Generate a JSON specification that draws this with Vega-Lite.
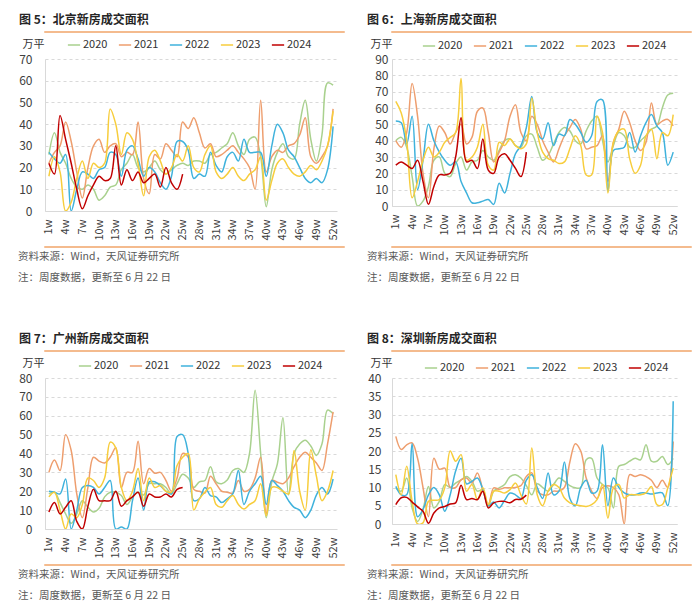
{
"$schema": "https://vega.github.io/schema/vega-lite/v6.json",
"background": "white",
"padding": {"left": 17, "top": 13, "right": 5, "bottom": 0},
"config": {
 "view": {"stroke": null},
 "font": "Noto Sans CJK SC",
 "axis": {"labelColor": "#404040", "labelFontSize": 12, "domainColor": "#D9D9D9", "ticks": false, "gridColor": "#D9D9D9", "gridDash": [3, 3], "titleFontWeight": "normal", "titleFontSize": 11, "titleColor": "#333333"},
 "legend": {"orient": "none", "direction": "horizontal", "symbolType": "stroke", "symbolSize": 150, "symbolStrokeWidth": 1.6, "labelFontSize": 11, "labelColor": "#333333", "columnPadding": 7, "labelOffset": 2}
},
"datasets": {
"bj": [
{"yr":"2020","w":1,"v":26},{"yr":"2020","w":2,"v":36},{"yr":"2020","w":3,"v":27},{"yr":"2020","w":4,"v":22},{"yr":"2020","w":5,"v":15},{"yr":"2020","w":6,"v":11},{"yr":"2020","w":7,"v":10},{"yr":"2020","w":8,"v":12},{"yr":"2020","w":9,"v":10},{"yr":"2020","w":10,"v":5},{"yr":"2020","w":11,"v":7},{"yr":"2020","w":12,"v":11},{"yr":"2020","w":13,"v":12},{"yr":"2020","w":14,"v":19},{"yr":"2020","w":15,"v":22},{"yr":"2020","w":16,"v":26},{"yr":"2020","w":17,"v":20},{"yr":"2020","w":18,"v":18},{"yr":"2020","w":19,"v":20},{"yr":"2020","w":20,"v":23},{"yr":"2020","w":21,"v":19},{"yr":"2020","w":22,"v":17},{"yr":"2020","w":23,"v":19},{"yr":"2020","w":24,"v":21},{"yr":"2020","w":25,"v":22},{"yr":"2020","w":26,"v":21},{"yr":"2020","w":27,"v":23},{"yr":"2020","w":28,"v":23},{"yr":"2020","w":29,"v":22},{"yr":"2020","w":30,"v":26},{"yr":"2020","w":31,"v":27},{"yr":"2020","w":32,"v":29},{"yr":"2020","w":33,"v":31},{"yr":"2020","w":34,"v":36},{"yr":"2020","w":35,"v":30},{"yr":"2020","w":36,"v":26},{"yr":"2020","w":37,"v":33},{"yr":"2020","w":38,"v":34},{"yr":"2020","w":39,"v":25},{"yr":"2020","w":40,"v":2},{"yr":"2020","w":41,"v":19},{"yr":"2020","w":42,"v":27},{"yr":"2020","w":43,"v":31},{"yr":"2020","w":44,"v":25},{"yr":"2020","w":45,"v":24},{"yr":"2020","w":46,"v":40},{"yr":"2020","w":47,"v":51},{"yr":"2020","w":48,"v":33},{"yr":"2020","w":49,"v":23},{"yr":"2020","w":50,"v":35},{"yr":"2020","w":51,"v":59},{"yr":"2020","w":52,"v":58},
{"yr":"2021","w":1,"v":22},{"yr":"2021","w":2,"v":27},{"yr":"2021","w":3,"v":30},{"yr":"2021","w":4,"v":41},{"yr":"2021","w":5,"v":32},{"yr":"2021","w":6,"v":18},{"yr":"2021","w":7,"v":6},{"yr":"2021","w":8,"v":20},{"yr":"2021","w":9,"v":30},{"yr":"2021","w":10,"v":33},{"yr":"2021","w":11,"v":27},{"yr":"2021","w":12,"v":30},{"yr":"2021","w":13,"v":31},{"yr":"2021","w":14,"v":25},{"yr":"2021","w":15,"v":27},{"yr":"2021","w":16,"v":26},{"yr":"2021","w":17,"v":41},{"yr":"2021","w":18,"v":15},{"yr":"2021","w":19,"v":8},{"yr":"2021","w":20,"v":26},{"yr":"2021","w":21,"v":24},{"yr":"2021","w":22,"v":31},{"yr":"2021","w":23,"v":28},{"yr":"2021","w":24,"v":25},{"yr":"2021","w":25,"v":41},{"yr":"2021","w":26,"v":38},{"yr":"2021","w":27,"v":43},{"yr":"2021","w":28,"v":36},{"yr":"2021","w":29,"v":29},{"yr":"2021","w":30,"v":31},{"yr":"2021","w":31,"v":25},{"yr":"2021","w":32,"v":26},{"yr":"2021","w":33,"v":28},{"yr":"2021","w":34,"v":30},{"yr":"2021","w":35,"v":27},{"yr":"2021","w":36,"v":24},{"yr":"2021","w":37,"v":20},{"yr":"2021","w":38,"v":10},{"yr":"2021","w":39,"v":51},{"yr":"2021","w":40,"v":18},{"yr":"2021","w":41,"v":25},{"yr":"2021","w":42,"v":28},{"yr":"2021","w":43,"v":27},{"yr":"2021","w":44,"v":30},{"yr":"2021","w":45,"v":31},{"yr":"2021","w":46,"v":35},{"yr":"2021","w":47,"v":43},{"yr":"2021","w":48,"v":25},{"yr":"2021","w":49,"v":22},{"yr":"2021","w":50,"v":25},{"yr":"2021","w":51,"v":30},{"yr":"2021","w":52,"v":47},
{"yr":"2022","w":1,"v":27},{"yr":"2022","w":2,"v":24},{"yr":"2022","w":3,"v":22},{"yr":"2022","w":4,"v":26},{"yr":"2022","w":5,"v":0},{"yr":"2022","w":6,"v":10},{"yr":"2022","w":7,"v":18},{"yr":"2022","w":8,"v":17},{"yr":"2022","w":9,"v":15},{"yr":"2022","w":10,"v":19},{"yr":"2022","w":11,"v":20},{"yr":"2022","w":12,"v":27},{"yr":"2022","w":13,"v":26},{"yr":"2022","w":14,"v":16},{"yr":"2022","w":15,"v":28},{"yr":"2022","w":16,"v":30},{"yr":"2022","w":17,"v":24},{"yr":"2022","w":18,"v":16},{"yr":"2022","w":19,"v":20},{"yr":"2022","w":20,"v":18},{"yr":"2022","w":21,"v":13},{"yr":"2022","w":22,"v":10},{"yr":"2022","w":23,"v":16},{"yr":"2022","w":24,"v":32},{"yr":"2022","w":25,"v":32},{"yr":"2022","w":26,"v":28},{"yr":"2022","w":27,"v":15},{"yr":"2022","w":28,"v":17},{"yr":"2022","w":29,"v":16},{"yr":"2022","w":30,"v":27},{"yr":"2022","w":31,"v":21},{"yr":"2022","w":32,"v":18},{"yr":"2022","w":33,"v":25},{"yr":"2022","w":34,"v":27},{"yr":"2022","w":35,"v":23},{"yr":"2022","w":36,"v":33},{"yr":"2022","w":37,"v":27},{"yr":"2022","w":38,"v":27},{"yr":"2022","w":39,"v":27},{"yr":"2022","w":40,"v":16},{"yr":"2022","w":41,"v":30},{"yr":"2022","w":42,"v":40},{"yr":"2022","w":43,"v":36},{"yr":"2022","w":44,"v":28},{"yr":"2022","w":45,"v":25},{"yr":"2022","w":46,"v":20},{"yr":"2022","w":47,"v":15},{"yr":"2022","w":48,"v":13},{"yr":"2022","w":49,"v":15},{"yr":"2022","w":50,"v":13},{"yr":"2022","w":51,"v":19},{"yr":"2022","w":52,"v":39},
{"yr":"2023","w":1,"v":16},{"yr":"2023","w":2,"v":25},{"yr":"2023","w":3,"v":18},{"yr":"2023","w":4,"v":0},{"yr":"2023","w":5,"v":4},{"yr":"2023","w":6,"v":15},{"yr":"2023","w":7,"v":23},{"yr":"2023","w":8,"v":15},{"yr":"2023","w":9,"v":22},{"yr":"2023","w":10,"v":20},{"yr":"2023","w":11,"v":22},{"yr":"2023","w":12,"v":47},{"yr":"2023","w":13,"v":40},{"yr":"2023","w":14,"v":26},{"yr":"2023","w":15,"v":36},{"yr":"2023","w":16,"v":33},{"yr":"2023","w":17,"v":22},{"yr":"2023","w":18,"v":7},{"yr":"2023","w":19,"v":25},{"yr":"2023","w":20,"v":28},{"yr":"2023","w":21,"v":23},{"yr":"2023","w":22,"v":17},{"yr":"2023","w":23,"v":20},{"yr":"2023","w":24,"v":26},{"yr":"2023","w":25,"v":23},{"yr":"2023","w":26,"v":30},{"yr":"2023","w":27,"v":20},{"yr":"2023","w":28,"v":18},{"yr":"2023","w":29,"v":26},{"yr":"2023","w":30,"v":30},{"yr":"2023","w":31,"v":18},{"yr":"2023","w":32,"v":15},{"yr":"2023","w":33,"v":17},{"yr":"2023","w":34,"v":20},{"yr":"2023","w":35,"v":16},{"yr":"2023","w":36,"v":14},{"yr":"2023","w":37,"v":17},{"yr":"2023","w":38,"v":19},{"yr":"2023","w":39,"v":25},{"yr":"2023","w":40,"v":5},{"yr":"2023","w":41,"v":14},{"yr":"2023","w":42,"v":22},{"yr":"2023","w":43,"v":24},{"yr":"2023","w":44,"v":20},{"yr":"2023","w":45,"v":17},{"yr":"2023","w":46,"v":16},{"yr":"2023","w":47,"v":18},{"yr":"2023","w":48,"v":21},{"yr":"2023","w":49,"v":19},{"yr":"2023","w":50,"v":23},{"yr":"2023","w":51,"v":30},{"yr":"2023","w":52,"v":46},
{"yr":"2024","w":1,"v":22},{"yr":"2024","w":2,"v":17},{"yr":"2024","w":3,"v":44},{"yr":"2024","w":4,"v":33},{"yr":"2024","w":5,"v":22},{"yr":"2024","w":6,"v":10},{"yr":"2024","w":7,"v":1},{"yr":"2024","w":8,"v":7},{"yr":"2024","w":9,"v":12},{"yr":"2024","w":10,"v":16},{"yr":"2024","w":11,"v":14},{"yr":"2024","w":12,"v":15},{"yr":"2024","w":13,"v":30},{"yr":"2024","w":14,"v":12},{"yr":"2024","w":15,"v":19},{"yr":"2024","w":16,"v":14},{"yr":"2024","w":17,"v":18},{"yr":"2024","w":18,"v":13},{"yr":"2024","w":19,"v":15},{"yr":"2024","w":20,"v":17},{"yr":"2024","w":21,"v":11},{"yr":"2024","w":22,"v":20},{"yr":"2024","w":23,"v":13},{"yr":"2024","w":24,"v":10},{"yr":"2024","w":25,"v":17}
],
"sh": [
{"yr":"2020","w":1,"v":40},{"yr":"2020","w":2,"v":42},{"yr":"2020","w":3,"v":36},{"yr":"2020","w":4,"v":18},{"yr":"2020","w":5,"v":0},{"yr":"2020","w":6,"v":3},{"yr":"2020","w":7,"v":12},{"yr":"2020","w":8,"v":28},{"yr":"2020","w":9,"v":30},{"yr":"2020","w":10,"v":20},{"yr":"2020","w":11,"v":18},{"yr":"2020","w":12,"v":26},{"yr":"2020","w":13,"v":30},{"yr":"2020","w":14,"v":22},{"yr":"2020","w":15,"v":27},{"yr":"2020","w":16,"v":28},{"yr":"2020","w":17,"v":34},{"yr":"2020","w":18,"v":30},{"yr":"2020","w":19,"v":28},{"yr":"2020","w":20,"v":34},{"yr":"2020","w":21,"v":40},{"yr":"2020","w":22,"v":41},{"yr":"2020","w":23,"v":37},{"yr":"2020","w":24,"v":36},{"yr":"2020","w":25,"v":43},{"yr":"2020","w":26,"v":44},{"yr":"2020","w":27,"v":36},{"yr":"2020","w":28,"v":28},{"yr":"2020","w":29,"v":31},{"yr":"2020","w":30,"v":38},{"yr":"2020","w":31,"v":45},{"yr":"2020","w":32,"v":48},{"yr":"2020","w":33,"v":46},{"yr":"2020","w":34,"v":40},{"yr":"2020","w":35,"v":38},{"yr":"2020","w":36,"v":46},{"yr":"2020","w":37,"v":52},{"yr":"2020","w":38,"v":55},{"yr":"2020","w":39,"v":40},{"yr":"2020","w":40,"v":27},{"yr":"2020","w":41,"v":37},{"yr":"2020","w":42,"v":45},{"yr":"2020","w":43,"v":43},{"yr":"2020","w":44,"v":36},{"yr":"2020","w":45,"v":36},{"yr":"2020","w":46,"v":40},{"yr":"2020","w":47,"v":43},{"yr":"2020","w":48,"v":47},{"yr":"2020","w":49,"v":49},{"yr":"2020","w":50,"v":60},{"yr":"2020","w":51,"v":68},{"yr":"2020","w":52,"v":69},
{"yr":"2021","w":1,"v":40},{"yr":"2021","w":2,"v":36},{"yr":"2021","w":3,"v":45},{"yr":"2021","w":4,"v":75},{"yr":"2021","w":5,"v":55},{"yr":"2021","w":6,"v":20},{"yr":"2021","w":7,"v":5},{"yr":"2021","w":8,"v":35},{"yr":"2021","w":9,"v":49},{"yr":"2021","w":10,"v":45},{"yr":"2021","w":11,"v":38},{"yr":"2021","w":12,"v":45},{"yr":"2021","w":13,"v":50},{"yr":"2021","w":14,"v":38},{"yr":"2021","w":15,"v":42},{"yr":"2021","w":16,"v":58},{"yr":"2021","w":17,"v":60},{"yr":"2021","w":18,"v":45},{"yr":"2021","w":19,"v":27},{"yr":"2021","w":20,"v":33},{"yr":"2021","w":21,"v":40},{"yr":"2021","w":22,"v":55},{"yr":"2021","w":23,"v":62},{"yr":"2021","w":24,"v":45},{"yr":"2021","w":25,"v":40},{"yr":"2021","w":26,"v":55},{"yr":"2021","w":27,"v":50},{"yr":"2021","w":28,"v":40},{"yr":"2021","w":29,"v":33},{"yr":"2021","w":30,"v":27},{"yr":"2021","w":31,"v":35},{"yr":"2021","w":32,"v":43},{"yr":"2021","w":33,"v":48},{"yr":"2021","w":34,"v":53},{"yr":"2021","w":35,"v":47},{"yr":"2021","w":36,"v":35},{"yr":"2021","w":37,"v":36},{"yr":"2021","w":38,"v":37},{"yr":"2021","w":39,"v":43},{"yr":"2021","w":40,"v":15},{"yr":"2021","w":41,"v":39},{"yr":"2021","w":42,"v":47},{"yr":"2021","w":43,"v":58},{"yr":"2021","w":44,"v":51},{"yr":"2021","w":45,"v":40},{"yr":"2021","w":46,"v":34},{"yr":"2021","w":47,"v":39},{"yr":"2021","w":48,"v":63},{"yr":"2021","w":49,"v":50},{"yr":"2021","w":50,"v":52},{"yr":"2021","w":51,"v":53},{"yr":"2021","w":52,"v":49},
{"yr":"2022","w":1,"v":52},{"yr":"2022","w":2,"v":51},{"yr":"2022","w":3,"v":38},{"yr":"2022","w":4,"v":55},{"yr":"2022","w":5,"v":10},{"yr":"2022","w":6,"v":28},{"yr":"2022","w":7,"v":50},{"yr":"2022","w":8,"v":40},{"yr":"2022","w":9,"v":33},{"yr":"2022","w":10,"v":28},{"yr":"2022","w":11,"v":25},{"yr":"2022","w":12,"v":27},{"yr":"2022","w":13,"v":15},{"yr":"2022","w":14,"v":8},{"yr":"2022","w":15,"v":2},{"yr":"2022","w":16,"v":2},{"yr":"2022","w":17,"v":3},{"yr":"2022","w":18,"v":4},{"yr":"2022","w":19,"v":1},{"yr":"2022","w":20,"v":14},{"yr":"2022","w":21,"v":8},{"yr":"2022","w":22,"v":20},{"yr":"2022","w":23,"v":32},{"yr":"2022","w":24,"v":37},{"yr":"2022","w":25,"v":48},{"yr":"2022","w":26,"v":67},{"yr":"2022","w":27,"v":45},{"yr":"2022","w":28,"v":41},{"yr":"2022","w":29,"v":51},{"yr":"2022","w":30,"v":37},{"yr":"2022","w":31,"v":44},{"yr":"2022","w":32,"v":43},{"yr":"2022","w":33,"v":53},{"yr":"2022","w":34,"v":50},{"yr":"2022","w":35,"v":45},{"yr":"2022","w":36,"v":39},{"yr":"2022","w":37,"v":43},{"yr":"2022","w":38,"v":64},{"yr":"2022","w":39,"v":65},{"yr":"2022","w":40,"v":9},{"yr":"2022","w":41,"v":34},{"yr":"2022","w":42,"v":35},{"yr":"2022","w":43,"v":36},{"yr":"2022","w":44,"v":45},{"yr":"2022","w":45,"v":33},{"yr":"2022","w":46,"v":43},{"yr":"2022","w":47,"v":51},{"yr":"2022","w":48,"v":56},{"yr":"2022","w":49,"v":49},{"yr":"2022","w":50,"v":45},{"yr":"2022","w":51,"v":25},{"yr":"2022","w":52,"v":33},
{"yr":"2023","w":1,"v":64},{"yr":"2023","w":2,"v":57},{"yr":"2023","w":3,"v":40},{"yr":"2023","w":4,"v":5},{"yr":"2023","w":5,"v":15},{"yr":"2023","w":6,"v":28},{"yr":"2023","w":7,"v":36},{"yr":"2023","w":8,"v":30},{"yr":"2023","w":9,"v":33},{"yr":"2023","w":10,"v":39},{"yr":"2023","w":11,"v":42},{"yr":"2023","w":12,"v":45},{"yr":"2023","w":13,"v":78},{"yr":"2023","w":14,"v":28},{"yr":"2023","w":15,"v":30},{"yr":"2023","w":16,"v":36},{"yr":"2023","w":17,"v":50},{"yr":"2023","w":18,"v":25},{"yr":"2023","w":19,"v":22},{"yr":"2023","w":20,"v":39},{"yr":"2023","w":21,"v":37},{"yr":"2023","w":22,"v":41},{"yr":"2023","w":23,"v":37},{"yr":"2023","w":24,"v":35},{"yr":"2023","w":25,"v":38},{"yr":"2023","w":26,"v":66},{"yr":"2023","w":27,"v":45},{"yr":"2023","w":28,"v":33},{"yr":"2023","w":29,"v":29},{"yr":"2023","w":30,"v":28},{"yr":"2023","w":31,"v":26},{"yr":"2023","w":32,"v":27},{"yr":"2023","w":33,"v":35},{"yr":"2023","w":34,"v":43},{"yr":"2023","w":35,"v":37},{"yr":"2023","w":36,"v":19},{"yr":"2023","w":37,"v":19},{"yr":"2023","w":38,"v":55},{"yr":"2023","w":39,"v":45},{"yr":"2023","w":40,"v":8},{"yr":"2023","w":41,"v":39},{"yr":"2023","w":42,"v":46},{"yr":"2023","w":43,"v":47},{"yr":"2023","w":44,"v":29},{"yr":"2023","w":45,"v":20},{"yr":"2023","w":46,"v":25},{"yr":"2023","w":47,"v":43},{"yr":"2023","w":48,"v":47},{"yr":"2023","w":49,"v":29},{"yr":"2023","w":50,"v":45},{"yr":"2023","w":51,"v":43},{"yr":"2023","w":52,"v":56},
{"yr":"2024","w":1,"v":25},{"yr":"2024","w":2,"v":27},{"yr":"2024","w":3,"v":25},{"yr":"2024","w":4,"v":23},{"yr":"2024","w":5,"v":28},{"yr":"2024","w":6,"v":15},{"yr":"2024","w":7,"v":1},{"yr":"2024","w":8,"v":12},{"yr":"2024","w":9,"v":19},{"yr":"2024","w":10,"v":19},{"yr":"2024","w":11,"v":20},{"yr":"2024","w":12,"v":30},{"yr":"2024","w":13,"v":54},{"yr":"2024","w":14,"v":27},{"yr":"2024","w":15,"v":28},{"yr":"2024","w":16,"v":23},{"yr":"2024","w":17,"v":41},{"yr":"2024","w":18,"v":22},{"yr":"2024","w":19,"v":20},{"yr":"2024","w":20,"v":30},{"yr":"2024","w":21,"v":32},{"yr":"2024","w":22,"v":28},{"yr":"2024","w":23,"v":23},{"yr":"2024","w":24,"v":18},{"yr":"2024","w":25,"v":33}
],
"gz": [
{"yr":"2020","w":1,"v":18.6},{"yr":"2020","w":2,"v":19.5},{"yr":"2020","w":3,"v":14},{"yr":"2020","w":4,"v":8},{"yr":"2020","w":5,"v":3},{"yr":"2020","w":6,"v":8},{"yr":"2020","w":7,"v":15},{"yr":"2020","w":8,"v":11.5},{"yr":"2020","w":9,"v":9},{"yr":"2020","w":10,"v":11},{"yr":"2020","w":11,"v":17},{"yr":"2020","w":12,"v":19.5},{"yr":"2020","w":13,"v":19.5},{"yr":"2020","w":14,"v":17.7},{"yr":"2020","w":15,"v":13},{"yr":"2020","w":16,"v":17},{"yr":"2020","w":17,"v":19.5},{"yr":"2020","w":18,"v":18},{"yr":"2020","w":19,"v":24},{"yr":"2020","w":20,"v":24},{"yr":"2020","w":21,"v":24},{"yr":"2020","w":22,"v":22},{"yr":"2020","w":23,"v":18.6},{"yr":"2020","w":24,"v":24},{"yr":"2020","w":25,"v":29},{"yr":"2020","w":26,"v":27},{"yr":"2020","w":27,"v":22},{"yr":"2020","w":28,"v":25},{"yr":"2020","w":29,"v":25.7},{"yr":"2020","w":30,"v":33},{"yr":"2020","w":31,"v":25},{"yr":"2020","w":32,"v":24},{"yr":"2020","w":33,"v":26},{"yr":"2020","w":34,"v":31},{"yr":"2020","w":35,"v":32},{"yr":"2020","w":36,"v":30},{"yr":"2020","w":37,"v":40},{"yr":"2020","w":38,"v":73.5},{"yr":"2020","w":39,"v":40},{"yr":"2020","w":40,"v":6},{"yr":"2020","w":41,"v":25},{"yr":"2020","w":42,"v":34.5},{"yr":"2020","w":43,"v":59},{"yr":"2020","w":44,"v":18},{"yr":"2020","w":45,"v":40},{"yr":"2020","w":46,"v":45},{"yr":"2020","w":47,"v":47},{"yr":"2020","w":48,"v":44},{"yr":"2020","w":49,"v":39},{"yr":"2020","w":50,"v":45},{"yr":"2020","w":51,"v":63},{"yr":"2020","w":52,"v":61},
{"yr":"2021","w":1,"v":30},{"yr":"2021","w":2,"v":36.6},{"yr":"2021","w":3,"v":31},{"yr":"2021","w":4,"v":50},{"yr":"2021","w":5,"v":41.6},{"yr":"2021","w":6,"v":18.6},{"yr":"2021","w":7,"v":6},{"yr":"2021","w":8,"v":22},{"yr":"2021","w":9,"v":38},{"yr":"2021","w":10,"v":36},{"yr":"2021","w":11,"v":35},{"yr":"2021","w":12,"v":38},{"yr":"2021","w":13,"v":43},{"yr":"2021","w":14,"v":22},{"yr":"2021","w":15,"v":30},{"yr":"2021","w":16,"v":30},{"yr":"2021","w":17,"v":46.5},{"yr":"2021","w":18,"v":24},{"yr":"2021","w":19,"v":32},{"yr":"2021","w":20,"v":29.5},{"yr":"2021","w":21,"v":30},{"yr":"2021","w":22,"v":25.7},{"yr":"2021","w":23,"v":20},{"yr":"2021","w":24,"v":27},{"yr":"2021","w":25,"v":40},{"yr":"2021","w":26,"v":38},{"yr":"2021","w":27,"v":21},{"yr":"2021","w":28,"v":20},{"yr":"2021","w":29,"v":19},{"yr":"2021","w":30,"v":28},{"yr":"2021","w":31,"v":24},{"yr":"2021","w":32,"v":20},{"yr":"2021","w":33,"v":19.5},{"yr":"2021","w":34,"v":19},{"yr":"2021","w":35,"v":25.7},{"yr":"2021","w":36,"v":20},{"yr":"2021","w":37,"v":21},{"yr":"2021","w":38,"v":27},{"yr":"2021","w":39,"v":38},{"yr":"2021","w":40,"v":8},{"yr":"2021","w":41,"v":25.7},{"yr":"2021","w":42,"v":24.8},{"yr":"2021","w":43,"v":24},{"yr":"2021","w":44,"v":27},{"yr":"2021","w":45,"v":33},{"yr":"2021","w":46,"v":38},{"yr":"2021","w":47,"v":40.7},{"yr":"2021","w":48,"v":38},{"yr":"2021","w":49,"v":35},{"yr":"2021","w":50,"v":31},{"yr":"2021","w":51,"v":45},{"yr":"2021","w":52,"v":62},
{"yr":"2022","w":1,"v":20},{"yr":"2022","w":2,"v":19.5},{"yr":"2022","w":3,"v":18.6},{"yr":"2022","w":4,"v":26.5},{"yr":"2022","w":5,"v":0},{"yr":"2022","w":6,"v":10},{"yr":"2022","w":7,"v":22},{"yr":"2022","w":8,"v":23},{"yr":"2022","w":9,"v":22},{"yr":"2022","w":10,"v":18.6},{"yr":"2022","w":11,"v":22},{"yr":"2022","w":12,"v":25.7},{"yr":"2022","w":13,"v":0},{"yr":"2022","w":14,"v":1},{"yr":"2022","w":15,"v":0},{"yr":"2022","w":16,"v":15},{"yr":"2022","w":17,"v":27},{"yr":"2022","w":18,"v":10},{"yr":"2022","w":19,"v":25},{"yr":"2022","w":20,"v":25},{"yr":"2022","w":21,"v":23},{"yr":"2022","w":22,"v":20},{"yr":"2022","w":23,"v":18.6},{"yr":"2022","w":24,"v":49},{"yr":"2022","w":25,"v":50},{"yr":"2022","w":26,"v":40},{"yr":"2022","w":27,"v":15},{"yr":"2022","w":28,"v":16},{"yr":"2022","w":29,"v":22},{"yr":"2022","w":30,"v":17.7},{"yr":"2022","w":31,"v":17},{"yr":"2022","w":32,"v":14},{"yr":"2022","w":33,"v":16},{"yr":"2022","w":34,"v":18.6},{"yr":"2022","w":35,"v":31},{"yr":"2022","w":36,"v":13},{"yr":"2022","w":37,"v":20},{"yr":"2022","w":38,"v":24},{"yr":"2022","w":39,"v":28},{"yr":"2022","w":40,"v":13},{"yr":"2022","w":41,"v":25.7},{"yr":"2022","w":42,"v":23},{"yr":"2022","w":43,"v":20},{"yr":"2022","w":44,"v":15},{"yr":"2022","w":45,"v":11.5},{"yr":"2022","w":46,"v":10},{"yr":"2022","w":47,"v":6},{"yr":"2022","w":48,"v":10},{"yr":"2022","w":49,"v":18},{"yr":"2022","w":50,"v":22},{"yr":"2022","w":51,"v":18.6},{"yr":"2022","w":52,"v":26.5},
{"yr":"2023","w":1,"v":17},{"yr":"2023","w":2,"v":19.5},{"yr":"2023","w":3,"v":10},{"yr":"2023","w":4,"v":0},{"yr":"2023","w":5,"v":8},{"yr":"2023","w":6,"v":6},{"yr":"2023","w":7,"v":13},{"yr":"2023","w":8,"v":27},{"yr":"2023","w":9,"v":25.7},{"yr":"2023","w":10,"v":22},{"yr":"2023","w":11,"v":27},{"yr":"2023","w":12,"v":46},{"yr":"2023","w":13,"v":43},{"yr":"2023","w":14,"v":22},{"yr":"2023","w":15,"v":15},{"yr":"2023","w":16,"v":20},{"yr":"2023","w":17,"v":32},{"yr":"2023","w":18,"v":15},{"yr":"2023","w":19,"v":27},{"yr":"2023","w":20,"v":22},{"yr":"2023","w":21,"v":23},{"yr":"2023","w":22,"v":20},{"yr":"2023","w":23,"v":19.5},{"yr":"2023","w":24,"v":33.6},{"yr":"2023","w":25,"v":38},{"yr":"2023","w":26,"v":40},{"yr":"2023","w":27,"v":10},{"yr":"2023","w":28,"v":16},{"yr":"2023","w":29,"v":19.5},{"yr":"2023","w":30,"v":22},{"yr":"2023","w":31,"v":13},{"yr":"2023","w":32,"v":11.5},{"yr":"2023","w":33,"v":15},{"yr":"2023","w":34,"v":17.7},{"yr":"2023","w":35,"v":13},{"yr":"2023","w":36,"v":10.6},{"yr":"2023","w":37,"v":13},{"yr":"2023","w":38,"v":15},{"yr":"2023","w":39,"v":24},{"yr":"2023","w":40,"v":7},{"yr":"2023","w":41,"v":22},{"yr":"2023","w":42,"v":22},{"yr":"2023","w":43,"v":20},{"yr":"2023","w":44,"v":18.6},{"yr":"2023","w":45,"v":41.6},{"yr":"2023","w":46,"v":20},{"yr":"2023","w":47,"v":10},{"yr":"2023","w":48,"v":42},{"yr":"2023","w":49,"v":28},{"yr":"2023","w":50,"v":15},{"yr":"2023","w":51,"v":20},{"yr":"2023","w":52,"v":31},
{"yr":"2024","w":1,"v":9},{"yr":"2024","w":2,"v":14},{"yr":"2024","w":3,"v":8},{"yr":"2024","w":4,"v":11.5},{"yr":"2024","w":5,"v":15},{"yr":"2024","w":6,"v":4},{"yr":"2024","w":7,"v":0},{"yr":"2024","w":8,"v":12},{"yr":"2024","w":9,"v":21},{"yr":"2024","w":10,"v":15},{"yr":"2024","w":11,"v":15},{"yr":"2024","w":12,"v":15},{"yr":"2024","w":13,"v":20},{"yr":"2024","w":14,"v":12},{"yr":"2024","w":15,"v":15},{"yr":"2024","w":16,"v":17},{"yr":"2024","w":17,"v":19.5},{"yr":"2024","w":18,"v":12},{"yr":"2024","w":19,"v":18.5},{"yr":"2024","w":20,"v":17},{"yr":"2024","w":21,"v":17},{"yr":"2024","w":22,"v":18.5},{"yr":"2024","w":23,"v":17},{"yr":"2024","w":24,"v":21},{"yr":"2024","w":25,"v":22}
],
"sz": [
{"yr":"2020","w":1,"v":9.9},{"yr":"2020","w":2,"v":9},{"yr":"2020","w":3,"v":12.6},{"yr":"2020","w":4,"v":4.4},{"yr":"2020","w":5,"v":0.7},{"yr":"2020","w":6,"v":4},{"yr":"2020","w":7,"v":10.3},{"yr":"2020","w":8,"v":4.4},{"yr":"2020","w":9,"v":6.2},{"yr":"2020","w":10,"v":10.8},{"yr":"2020","w":11,"v":10},{"yr":"2020","w":12,"v":11.2},{"yr":"2020","w":13,"v":12.1},{"yr":"2020","w":14,"v":13},{"yr":"2020","w":15,"v":11.7},{"yr":"2020","w":16,"v":9},{"yr":"2020","w":17,"v":9.4},{"yr":"2020","w":18,"v":4.8},{"yr":"2020","w":19,"v":9},{"yr":"2020","w":20,"v":9.9},{"yr":"2020","w":21,"v":10.8},{"yr":"2020","w":22,"v":13},{"yr":"2020","w":23,"v":13.5},{"yr":"2020","w":24,"v":12.6},{"yr":"2020","w":25,"v":10.5},{"yr":"2020","w":26,"v":8},{"yr":"2020","w":27,"v":11},{"yr":"2020","w":28,"v":10},{"yr":"2020","w":29,"v":9},{"yr":"2020","w":30,"v":10.8},{"yr":"2020","w":31,"v":12.6},{"yr":"2020","w":32,"v":11.7},{"yr":"2020","w":33,"v":10.5},{"yr":"2020","w":34,"v":9.9},{"yr":"2020","w":35,"v":10},{"yr":"2020","w":36,"v":17.6},{"yr":"2020","w":37,"v":18},{"yr":"2020","w":38,"v":12.6},{"yr":"2020","w":39,"v":10.8},{"yr":"2020","w":40,"v":9.9},{"yr":"2020","w":41,"v":4.4},{"yr":"2020","w":42,"v":15.8},{"yr":"2020","w":43,"v":16.3},{"yr":"2020","w":44,"v":17.2},{"yr":"2020","w":45,"v":18},{"yr":"2020","w":46,"v":17.6},{"yr":"2020","w":47,"v":21.7},{"yr":"2020","w":48,"v":17.2},{"yr":"2020","w":49,"v":17.2},{"yr":"2020","w":50,"v":18.5},{"yr":"2020","w":51,"v":16.3},{"yr":"2020","w":52,"v":18},
{"yr":"2021","w":1,"v":24},{"yr":"2021","w":2,"v":20.4},{"yr":"2021","w":3,"v":21.7},{"yr":"2021","w":4,"v":22.2},{"yr":"2021","w":5,"v":18},{"yr":"2021","w":6,"v":10},{"yr":"2021","w":7,"v":2},{"yr":"2021","w":8,"v":18},{"yr":"2021","w":9,"v":15},{"yr":"2021","w":10,"v":15.3},{"yr":"2021","w":11,"v":10},{"yr":"2021","w":12,"v":10},{"yr":"2021","w":13,"v":12.1},{"yr":"2021","w":14,"v":12.6},{"yr":"2021","w":15,"v":11.2},{"yr":"2021","w":16,"v":14},{"yr":"2021","w":17,"v":9.4},{"yr":"2021","w":18,"v":5.3},{"yr":"2021","w":19,"v":9.9},{"yr":"2021","w":20,"v":9.5},{"yr":"2021","w":21,"v":9.9},{"yr":"2021","w":22,"v":9.9},{"yr":"2021","w":23,"v":10},{"yr":"2021","w":24,"v":10.5},{"yr":"2021","w":25,"v":13},{"yr":"2021","w":26,"v":14},{"yr":"2021","w":27,"v":9},{"yr":"2021","w":28,"v":8},{"yr":"2021","w":29,"v":8},{"yr":"2021","w":30,"v":9},{"yr":"2021","w":31,"v":9},{"yr":"2021","w":32,"v":10},{"yr":"2021","w":33,"v":17},{"yr":"2021","w":34,"v":22},{"yr":"2021","w":35,"v":20},{"yr":"2021","w":36,"v":12.6},{"yr":"2021","w":37,"v":9},{"yr":"2021","w":38,"v":7},{"yr":"2021","w":39,"v":10},{"yr":"2021","w":40,"v":10.5},{"yr":"2021","w":41,"v":10},{"yr":"2021","w":42,"v":8},{"yr":"2021","w":43,"v":0},{"yr":"2021","w":44,"v":13.5},{"yr":"2021","w":45,"v":13},{"yr":"2021","w":46,"v":13.5},{"yr":"2021","w":47,"v":13},{"yr":"2021","w":48,"v":12},{"yr":"2021","w":49,"v":10},{"yr":"2021","w":50,"v":12},{"yr":"2021","w":51,"v":10},{"yr":"2021","w":52,"v":22.6},
{"yr":"2022","w":1,"v":10.3},{"yr":"2022","w":2,"v":8},{"yr":"2022","w":3,"v":8},{"yr":"2022","w":4,"v":22},{"yr":"2022","w":5,"v":2},{"yr":"2022","w":6,"v":4},{"yr":"2022","w":7,"v":8},{"yr":"2022","w":8,"v":10},{"yr":"2022","w":9,"v":8},{"yr":"2022","w":10,"v":3.5},{"yr":"2022","w":11,"v":8},{"yr":"2022","w":12,"v":14.5},{"yr":"2022","w":13,"v":18},{"yr":"2022","w":14,"v":11},{"yr":"2022","w":15,"v":11.7},{"yr":"2022","w":16,"v":12.6},{"yr":"2022","w":17,"v":9.5},{"yr":"2022","w":18,"v":5},{"yr":"2022","w":19,"v":6},{"yr":"2022","w":20,"v":4.4},{"yr":"2022","w":21,"v":6.5},{"yr":"2022","w":22,"v":8.5},{"yr":"2022","w":23,"v":8},{"yr":"2022","w":24,"v":7},{"yr":"2022","w":25,"v":12},{"yr":"2022","w":26,"v":13.5},{"yr":"2022","w":27,"v":10},{"yr":"2022","w":28,"v":7},{"yr":"2022","w":29,"v":14},{"yr":"2022","w":30,"v":8},{"yr":"2022","w":31,"v":9},{"yr":"2022","w":32,"v":17},{"yr":"2022","w":33,"v":7},{"yr":"2022","w":34,"v":5},{"yr":"2022","w":35,"v":10},{"yr":"2022","w":36,"v":12},{"yr":"2022","w":37,"v":8.5},{"yr":"2022","w":38,"v":9},{"yr":"2022","w":39,"v":21.7},{"yr":"2022","w":40,"v":5},{"yr":"2022","w":41,"v":12.6},{"yr":"2022","w":42,"v":10},{"yr":"2022","w":43,"v":8.5},{"yr":"2022","w":44,"v":8},{"yr":"2022","w":45,"v":8},{"yr":"2022","w":46,"v":8.5},{"yr":"2022","w":47,"v":8.5},{"yr":"2022","w":48,"v":8.2},{"yr":"2022","w":49,"v":8.5},{"yr":"2022","w":50,"v":8.5},{"yr":"2022","w":51,"v":5},{"yr":"2022","w":52,"v":33.6},
{"yr":"2023","w":1,"v":13.5},{"yr":"2023","w":2,"v":8},{"yr":"2023","w":3,"v":15.8},{"yr":"2023","w":4,"v":6.2},{"yr":"2023","w":5,"v":0},{"yr":"2023","w":6,"v":0.3},{"yr":"2023","w":7,"v":6.2},{"yr":"2023","w":8,"v":6.5},{"yr":"2023","w":9,"v":6.7},{"yr":"2023","w":10,"v":9.9},{"yr":"2023","w":11,"v":20},{"yr":"2023","w":12,"v":17.2},{"yr":"2023","w":13,"v":19},{"yr":"2023","w":14,"v":9},{"yr":"2023","w":15,"v":10.8},{"yr":"2023","w":16,"v":6.7},{"yr":"2023","w":17,"v":9.9},{"yr":"2023","w":18,"v":5.3},{"yr":"2023","w":19,"v":9},{"yr":"2023","w":20,"v":9},{"yr":"2023","w":21,"v":8.5},{"yr":"2023","w":22,"v":9.4},{"yr":"2023","w":23,"v":11.2},{"yr":"2023","w":24,"v":8},{"yr":"2023","w":25,"v":5.5},{"yr":"2023","w":26,"v":20.8},{"yr":"2023","w":27,"v":8},{"yr":"2023","w":28,"v":5},{"yr":"2023","w":29,"v":9},{"yr":"2023","w":30,"v":10.8},{"yr":"2023","w":31,"v":10},{"yr":"2023","w":32,"v":7.1},{"yr":"2023","w":33,"v":5.8},{"yr":"2023","w":34,"v":5.3},{"yr":"2023","w":35,"v":5},{"yr":"2023","w":36,"v":4.8},{"yr":"2023","w":37,"v":5.3},{"yr":"2023","w":38,"v":6.7},{"yr":"2023","w":39,"v":10.8},{"yr":"2023","w":40,"v":1.6},{"yr":"2023","w":41,"v":9.9},{"yr":"2023","w":42,"v":10.8},{"yr":"2023","w":43,"v":7.1},{"yr":"2023","w":44,"v":8},{"yr":"2023","w":45,"v":8},{"yr":"2023","w":46,"v":8},{"yr":"2023","w":47,"v":8.5},{"yr":"2023","w":48,"v":10.3},{"yr":"2023","w":49,"v":5.3},{"yr":"2023","w":50,"v":5.3},{"yr":"2023","w":51,"v":9.9},{"yr":"2023","w":52,"v":15.3},
{"yr":"2024","w":1,"v":5.3},{"yr":"2024","w":2,"v":7.2},{"yr":"2024","w":3,"v":7.3},{"yr":"2024","w":4,"v":6},{"yr":"2024","w":5,"v":4.7},{"yr":"2024","w":6,"v":3.5},{"yr":"2024","w":7,"v":0.2},{"yr":"2024","w":8,"v":3},{"yr":"2024","w":9,"v":4.4},{"yr":"2024","w":10,"v":4.8},{"yr":"2024","w":11,"v":5.5},{"yr":"2024","w":12,"v":5.8},{"yr":"2024","w":13,"v":10.6},{"yr":"2024","w":14,"v":6.7},{"yr":"2024","w":15,"v":7},{"yr":"2024","w":16,"v":6.7},{"yr":"2024","w":17,"v":9},{"yr":"2024","w":18,"v":4.4},{"yr":"2024","w":19,"v":5.8},{"yr":"2024","w":20,"v":6.2},{"yr":"2024","w":21,"v":6.2},{"yr":"2024","w":22,"v":5.8},{"yr":"2024","w":23,"v":6.7},{"yr":"2024","w":24,"v":6.8},{"yr":"2024","w":25,"v":7.9}
]
},
"vconcat": [
{
 "concat": [
  {"width": 299, "height": 0.1, "view": {"stroke": "#F0A468", "strokeWidth": 1.5}, "title": {"text": "图 5：北京新房成交面积", "anchor": "start", "dx": -26, "offset": 5, "fontSize": 12, "fontWeight": "bold", "color": "#262626"}, "data": {"values": []}, "mark": {"type": "text"}, "encoding": {"text": {"field": "t"}}},
  {"width": 299, "height": 0.1, "view": {"stroke": "#F0A468", "strokeWidth": 1.5}, "title": {"text": "图 6：上海新房成交面积", "anchor": "start", "dx": -25, "offset": 5, "fontSize": 12, "fontWeight": "bold", "color": "#262626"}, "data": {"values": []}, "mark": {"type": "text"}, "encoding": {"text": {"field": "t"}}},
  {"width": 292, "height": 152, "data": {"name": "bj"}, "mark": {"type": "line", "interpolate": "catmull-rom", "clip": true},
   "encoding": {
    "x": {"field": "w", "type": "quantitative", "scale": {"domain": [0.3, 52.7], "nice": false, "zero": false}, "axis": {"values": [1,4,7,10,13,16,19,22,25,28,31,34,37,40,43,46,49,52], "labelExpr": "datum.value + 'w'", "title": null, "grid": false, "labelAngle": 270, "labelFontSize": 11, "labelPadding": 8}},
    "y": {"field": "v", "type": "quantitative", "scale": {"domain": [0, 70], "nice": false}, "axis": {"values": [0,10,20,30,40,50,60,70], "title": "万平", "titleAngle": 0, "titleAlign": "right", "titleBaseline": "middle", "titleX": -1, "titleY": -15, "labelPadding": 13}},
    "color": {"field": "yr", "type": "nominal", "scale": {"domain": ["2020","2021","2022","2023","2024"], "range": ["#A9D18E","#EE9E6E","#3FB2DC","#F7CD3C","#C00000"]}, "legend": {"title": null, "legendX": 22, "legendY": -21, "encode": {"symbols": {"update": {"strokeWidth": {"signal": "datum.value === '2024' ? 2.6 : 1.6"}}}}}},
    "strokeWidth": {"field": "yr", "type": "nominal", "scale": {"domain": ["2020","2021","2022","2023","2024"], "range": [1.5,1.5,1.5,1.5,2.4]}, "legend": null}
   }},
  {"width": 285, "height": 147, "data": {"name": "sh"}, "mark": {"type": "line", "interpolate": "catmull-rom", "clip": true},
   "encoding": {
    "x": {"field": "w", "type": "quantitative", "scale": {"domain": [0.3, 52.7], "nice": false, "zero": false}, "axis": {"values": [1,4,7,10,13,16,19,22,25,28,31,34,37,40,43,46,49,52], "labelExpr": "datum.value + 'w'", "title": null, "grid": false, "labelAngle": 270, "labelFontSize": 11, "labelPadding": 8}},
    "y": {"field": "v", "type": "quantitative", "scale": {"domain": [0, 90], "nice": false}, "axis": {"values": [0,10,20,30,40,50,60,70,80,90], "title": "万平", "titleAngle": 0, "titleAlign": "right", "titleBaseline": "middle", "titleX": 0, "titleY": -15, "labelPadding": 4}},
    "color": {"field": "yr", "type": "nominal", "scale": {"domain": ["2020","2021","2022","2023","2024"], "range": ["#A9D18E","#EE9E6E","#3FB2DC","#F7CD3C","#C00000"]}, "legend": {"title": null, "legendX": 30, "legendY": -20, "encode": {"symbols": {"update": {"strokeWidth": {"signal": "datum.value === '2024' ? 2.6 : 1.6"}}}}}},
    "strokeWidth": {"field": "yr", "type": "nominal", "scale": {"domain": ["2020","2021","2022","2023","2024"], "range": [1.5,1.5,1.5,1.5,2.4]}, "legend": null}
   }},
  {"width": 299, "height": 0.1, "view": {"stroke": "#F0A468", "strokeWidth": 1.5}, "title": {"text": ["资料来源：Wind，天风证券研究所", "注：周度数据，更新至 6 月 22 日"], "orient": "bottom", "anchor": "start", "dx": -27, "offset": 5, "fontSize": 10.5, "fontWeight": "normal", "color": "#595959", "lineHeight": 21}, "data": {"values": []}, "mark": {"type": "text"}, "encoding": {"text": {"field": "t"}}},
  {"width": 299, "height": 0.1, "view": {"stroke": "#F0A468", "strokeWidth": 1.5}, "title": {"text": ["资料来源：Wind，天风证券研究所", "注：周度数据，更新至 6 月 22 日"], "orient": "bottom", "anchor": "start", "dx": -25, "offset": 5, "fontSize": 10.5, "fontWeight": "normal", "color": "#595959", "lineHeight": 21}, "data": {"values": []}, "mark": {"type": "text"}, "encoding": {"text": {"field": "t"}}}
 ],
 "columns": 2,
 "align": "each",
 "spacing": {"row": 5, "column": 21},
 "resolve": {"scale": {"color": "independent", "strokeWidth": "independent", "x": "independent", "y": "independent"}, "legend": {"color": "independent", "strokeWidth": "independent"}}
},
{
 "concat": [
  {"width": 299, "height": 0.1, "view": {"stroke": "#F0A468", "strokeWidth": 1.5}, "title": {"text": "图 7：广州新房成交面积", "anchor": "start", "dx": -26, "offset": 5, "fontSize": 12, "fontWeight": "bold", "color": "#262626"}, "data": {"values": []}, "mark": {"type": "text"}, "encoding": {"text": {"field": "t"}}},
  {"width": 299, "height": 0.1, "view": {"stroke": "#F0A468", "strokeWidth": 1.5}, "title": {"text": "图 8：深圳新房成交面积", "anchor": "start", "dx": -25, "offset": 5, "fontSize": 12, "fontWeight": "bold", "color": "#262626"}, "data": {"values": []}, "mark": {"type": "text"}, "encoding": {"text": {"field": "t"}}},
  {"width": 292, "height": 151, "data": {"name": "gz"}, "mark": {"type": "line", "interpolate": "catmull-rom", "clip": true},
   "encoding": {
    "x": {"field": "w", "type": "quantitative", "scale": {"domain": [0.3, 52.7], "nice": false, "zero": false}, "axis": {"values": [1,4,7,10,13,16,19,22,25,28,31,34,37,40,43,46,49,52], "labelExpr": "datum.value + 'w'", "title": null, "grid": false, "labelAngle": 270, "labelFontSize": 11, "labelPadding": 8}},
    "y": {"field": "v", "type": "quantitative", "scale": {"domain": [0, 80], "nice": false}, "axis": {"values": [0,10,20,30,40,50,60,70,80], "title": "万平", "titleAngle": 0, "titleAlign": "right", "titleBaseline": "middle", "titleX": -1, "titleY": -15, "labelPadding": 13}},
    "color": {"field": "yr", "type": "nominal", "scale": {"domain": ["2020","2021","2022","2023","2024"], "range": ["#A9D18E","#EE9E6E","#3FB2DC","#F7CD3C","#C00000"]}, "legend": {"title": null, "legendX": 33, "legendY": -19, "encode": {"symbols": {"update": {"strokeWidth": {"signal": "datum.value === '2024' ? 2.6 : 1.6"}}}}}},
    "strokeWidth": {"field": "yr", "type": "nominal", "scale": {"domain": ["2020","2021","2022","2023","2024"], "range": [1.5,1.5,1.5,1.5,2.4]}, "legend": null}
   }},
  {"width": 285, "height": 146, "data": {"name": "sz"}, "mark": {"type": "line", "interpolate": "catmull-rom", "clip": true},
   "encoding": {
    "x": {"field": "w", "type": "quantitative", "scale": {"domain": [0.3, 52.7], "nice": false, "zero": false}, "axis": {"values": [1,4,7,10,13,16,19,22,25,28,31,34,37,40,43,46,49,52], "labelExpr": "datum.value + 'w'", "title": null, "grid": false, "labelAngle": 270, "labelFontSize": 11, "labelPadding": 8}},
    "y": {"field": "v", "type": "quantitative", "scale": {"domain": [0, 40], "nice": false}, "axis": {"values": [0,5,10,15,20,25,30,35,40], "title": "万平", "titleAngle": 0, "titleAlign": "right", "titleBaseline": "middle", "titleX": 0, "titleY": -15, "labelPadding": 11}},
    "color": {"field": "yr", "type": "nominal", "scale": {"domain": ["2020","2021","2022","2023","2024"], "range": ["#A9D18E","#EE9E6E","#3FB2DC","#F7CD3C","#C00000"]}, "legend": {"title": null, "legendX": 32, "legendY": -17, "encode": {"symbols": {"update": {"strokeWidth": {"signal": "datum.value === '2024' ? 2.6 : 1.6"}}}}}},
    "strokeWidth": {"field": "yr", "type": "nominal", "scale": {"domain": ["2020","2021","2022","2023","2024"], "range": [1.5,1.5,1.5,1.5,2.4]}, "legend": null}
   }},
  {"width": 299, "height": 0.1, "view": {"stroke": "#F0A468", "strokeWidth": 1.5}, "title": {"text": ["资料来源：Wind，天风证券研究所", "注：周度数据，更新至 6 月 22 日"], "orient": "bottom", "anchor": "start", "dx": -27, "offset": 5, "fontSize": 10.5, "fontWeight": "normal", "color": "#595959", "lineHeight": 21}, "data": {"values": []}, "mark": {"type": "text"}, "encoding": {"text": {"field": "t"}}},
  {"width": 299, "height": 0.1, "view": {"stroke": "#F0A468", "strokeWidth": 1.5}, "title": {"text": ["资料来源：Wind，天风证券研究所", "注：周度数据，更新至 6 月 22 日"], "orient": "bottom", "anchor": "start", "dx": -25, "offset": 5, "fontSize": 10.5, "fontWeight": "normal", "color": "#595959", "lineHeight": 21}, "data": {"values": []}, "mark": {"type": "text"}, "encoding": {"text": {"field": "t"}}}
 ],
 "columns": 2,
 "align": "each",
 "spacing": {"row": 5, "column": 21},
 "resolve": {"scale": {"color": "independent", "strokeWidth": "independent", "x": "independent", "y": "independent"}, "legend": {"color": "independent", "strokeWidth": "independent"}}
}
],
"spacing": 47,
"resolve": {"scale": {"color": "independent", "strokeWidth": "independent", "x": "independent", "y": "independent"}, "legend": {"color": "independent", "strokeWidth": "independent"}}
}
